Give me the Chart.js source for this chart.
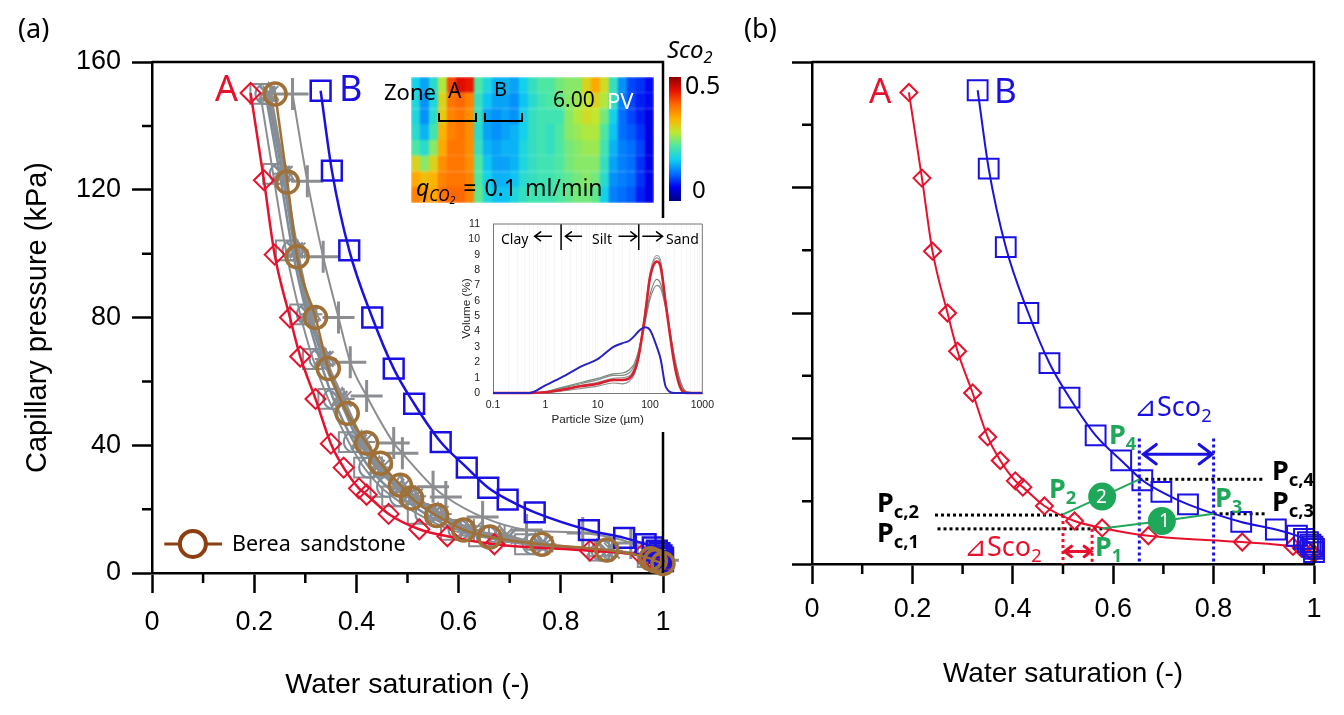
<!DOCTYPE html>
<html>
<head>
<meta charset="utf-8">
<script src="https://cdn.jsdelivr.net/npm/chart.js"></script>
<style>
  html, body { margin: 0; padding: 0; background: #fff; overflow: hidden; }
  body { width: 1344px; height: 715px; position: relative; font-family: "Noto Sans", sans-serif; }
  canvas { position: absolute; }
  .t { position: absolute; white-space: nowrap; line-height: 1; }
  .t sub { font-size: 0.68em; vertical-align: baseline; position: relative; top: 0.3em; }
  .red { color: #e8112d; }
  .blue { color: #1a10e0; }
  .green { color: #1fa85a; font-weight: 700; }
  .pc { color: #000; font-weight: 700; font-size: 27px; }
  .bracket { position: absolute; border: 2px solid #000; border-top: none; height: 7px; }
  #inset { position: absolute; left: 458px; top: 218px; width: 262px; height: 214px; background: #fff; }
  #heatWrap { position: absolute; left: 411px; top: 77px; width: 243px; height: 126px; overflow: hidden; }
</style>
</head>
<body>

<canvas id="chartA" width="700" height="715" style="left:0;top:0"></canvas>
<canvas id="chartB" width="672" height="715" style="left:672px;top:0"></canvas>
<div id="inset"><canvas id="chartPsd" width="262" height="220" style="left:0;top:-6px"></canvas></div>
<div id="heatWrap"><canvas id="chartHeat" width="243" height="126" style="left:0;top:0;filter:blur(1.2px)"></canvas></div>
<canvas id="chartBar" width="12" height="124" style="left:669px;top:77px"></canvas>

<!-- panel a text -->
<div class="t" style="left:18px;top:14px;font-size:27px">(a)</div>
<div class="t red" style="left:215px;top:70px;font-size:36px">A</div>
<div class="t blue" style="left:339px;top:70px;font-size:36px">B</div>
<div class="t" style="left:384px;top:80px;font-size:22px">Zone</div>
<div class="t" style="left:448px;top:80px;font-size:21px">A</div>
<div class="t" style="left:494px;top:79px;font-size:20px">B</div>
<div class="bracket" style="left:438px;top:113px;width:35px"></div>
<div class="bracket" style="left:484px;top:113px;width:35px"></div>
<div class="t" style="left:553px;top:89px;font-size:21px">6.00</div>
<div class="t" style="left:607px;top:89px;font-size:22px;color:#fff">PV</div>
<div class="t" style="left:416px;top:176px;font-size:23px;word-spacing:2px"><i>q<sub>CO<sub>2</sub></sub></i> = 0.1 ml/min</div>
<div class="t" style="left:667px;top:37px;font-size:24px"><i>Sco<sub>2</sub></i></div>
<div class="t" style="left:685px;top:72px;font-size:25px">0.5</div>
<div class="t" style="left:692px;top:177px;font-size:24px">0</div>
<div class="t" style="left:232px;top:532px;font-size:21.5px;word-spacing:4px">Berea sandstone</div>
<div class="t" style="left:501px;top:232px;font-size:14px">Clay</div>
<div class="t" style="left:592px;top:232px;font-size:14px">Silt</div>
<div class="t" style="left:666px;top:232px;font-size:14px">Sand</div>

<!-- panel b text -->
<div class="t" style="left:744px;top:14px;font-size:27px">(b)</div>
<div class="t red" style="left:869px;top:72px;font-size:35px">A</div>
<div class="t blue" style="left:994px;top:72px;font-size:35px">B</div>
<div class="t blue" style="left:1134px;top:392px;font-size:27px">⊿Sco<sub>2</sub></div>
<div class="t red" style="left:964px;top:532px;font-size:27px">⊿Sco<sub>2</sub></div>
<div class="t green" style="left:1109px;top:420px;font-size:27px">P<sub>4</sub></div>
<div class="t green" style="left:1049px;top:474px;font-size:27px">P<sub>2</sub></div>
<div class="t green" style="left:1095px;top:532px;font-size:27px">P<sub>1</sub></div>
<div class="t green" style="left:1215px;top:483px;font-size:27px">P<sub>3</sub></div>
<div class="t pc" style="left:877px;top:488px">P<sub>c,2</sub></div>
<div class="t pc" style="left:877px;top:518px">P<sub>c,1</sub></div>
<div class="t pc" style="left:1272px;top:456px">P<sub>c,4</sub></div>
<div class="t pc" style="left:1272px;top:487px">P<sub>c,3</sub></div>
<div class="t" style="left:1096px;top:487px;font-size:19px;color:#fff">2</div>
<div class="t" style="left:1159px;top:511px;font-size:19px;color:#fff">1</div>

<script>
// capillary pressure curves, x = water saturation, y = kPa
const xA = [0.193,0.219,0.24,0.27,0.29,0.32,0.35,0.375,0.405,0.42,0.463,0.523,0.578,0.67,0.857,0.958,0.975,0.99,0.996,1];
const yA = [150.3,123,99.7,80,67.8,54.5,40.5,33,26.5,24.5,18.5,13.7,11.5,9,7,5.6,5,4.4,3.8,3.2];
const xB = [0.33,0.352,0.386,0.431,0.473,0.513,0.565,0.616,0.658,0.696,0.749,0.855,0.924,0.966,0.98,0.988,0.993,0.997,1,1];
const yB = [151,126,101,80,64,53,41,33,26.7,23,19,13.4,11,9,8,7,6.2,5.5,4.8,3.8];
const xBerea = [0.241,0.265,0.284,0.32,0.345,0.382,0.42,0.447,0.486,0.508,0.557,0.61,0.661,0.763,0.89,0.976,0.985,1];
const yBerea = [150,122.4,99,80,64,50,40.7,34.4,27.5,23.5,18,13.5,11.3,9,7.2,4.5,3.8,3];
const xPlus = [0.275,0.304,0.335,0.365,0.388,0.42,0.473,0.49,0.55,0.575,0.647,0.733,0.843,0.937,1];
const yPlus = [150,122.7,99,80,66,55.4,40.7,37.5,27,23.8,17.5,13.5,12.5,9.4,4];

// the grey samples share the same pressure steps
const yGrey = [150,125,101,81,67,54.5,41,33,27,24,18.5,13.5,11.5,9,7,5,3.5];
const xGrey1 = [0.212,0.237,0.262,0.29,0.315,0.345,0.385,0.415,0.447,0.47,0.52,0.585,0.64,0.73,0.875,0.97,1];
const xGrey2 = [0.222,0.25,0.275,0.303,0.328,0.355,0.395,0.425,0.46,0.485,0.535,0.6,0.655,0.745,0.88,0.975,1];
const xGrey3 = [0.226,0.255,0.28,0.307,0.335,0.367,0.405,0.44,0.478,0.5,0.55,0.615,0.698,0.76,0.89,0.98,1];
const xGrey4 = [0.228,0.258,0.283,0.31,0.338,0.372,0.41,0.445,0.485,0.51,0.56,0.62,0.68,0.75,0.87,0.975,1];
const xGrey5 = [0.232,0.26,0.285,0.312,0.34,0.375,0.415,0.45,0.49,0.515,0.565,0.63,0.69,0.77,0.9,0.98,1];

// legend sample on panel a
const xLegend = [0.024,0.08,0.137];
const yLegend = [9.1,9.1,9.1];

// panel b annotations
const pc1X = [0.25,0.578], pc1Y = [11.2,11.2];
const pc2X = [0.245,0.5], pc2Y = [15.6,15.6];
const pc3X = [0.8,0.904], pc3Y = [16,16];
const pc4X = [0.652,0.9], pc4Y = [27,27];
const redDotsLeft = [0.5,0.5], redDotsLeftY = [15.6,0];
const redDotsRight = [0.558,0.558], redDotsRightY = [11.2,0];
const blueDotsLeft = [0.652,0.652], blueDotsRight = [0.8,0.8], blueDotsY = [40,0];
const greenLine1X = [0.578,0.697,0.8], greenLine1Y = [11.3,13.7,16];
const greenLine2X = [0.5,0.578,0.652], greenLine2Y = [15.8,21.5,27];

// particle size curves, x in micron
const psdSizes = [0.1,0.5,1,2,5,10,20,30,40,50,60,80,100,135,160,200,300,400,500,1000];
const psdRed = [0,0,0.05,0.2,0.45,0.6,0.85,0.85,0.95,1.4,2.3,5,7.5,8.55,8.2,5.8,1.7,0.2,0,0];
const psdGrey1 = [0,0,0.05,0.25,0.5,0.7,0.95,1,1.1,1.6,2.5,5.2,7.8,8.95,8.6,6,1.9,0.3,0,0];
const psdGrey2 = [0,0,0.08,0.35,0.7,0.95,1.25,1.3,1.5,1.9,2.7,4.7,6.4,7.4,7.1,5.7,2.1,0.5,0.05,0];
const psdGrey3 = [0,0,0.06,0.3,0.62,0.85,1.15,1.15,1.3,1.75,2.5,4.5,6.1,7,6.8,5.5,2.2,0.55,0.1,0];
const psdGrey4 = [0,0,0.02,0.12,0.3,0.45,0.65,0.6,0.75,1.2,2.2,5,7.6,8.8,8.4,5.9,1.8,0.25,0,0];
const psdBlue = [0,0,0.5,1,1.75,2.2,3,3.25,3.4,3.7,4,4.28,4.1,3.0,2.2,0.4,0,0,0,0];
const psdDividerX1 = [2,2], psdDividerX2 = [61,61], psdDividerY = [11,9.3];

// Sco2 field, one list per row from top to bottom
const heatRow1 = [.17,.14,.19,.27,.41,.45,.44,.22,.18,.15,.15,.14,.17,.20,.22,.22,.24,.25,.25,.30,.34,.29,.20,.13,.09,.08,.06];
const heatRow2 = [.18,.13,.18,.30,.38,.39,.37,.20,.16,.14,.14,.13,.16,.19,.21,.22,.23,.25,.26,.28,.30,.27,.20,.12,.09,.07,.06];
const heatRow3 = [.18,.13,.19,.31,.37,.38,.36,.20,.14,.13,.14,.13,.17,.20,.21,.21,.21,.25,.27,.29,.28,.24,.17,.11,.09,.07,.05];
const heatRow4 = [.19,.15,.21,.33,.37,.38,.36,.19,.14,.13,.14,.15,.17,.20,.21,.20,.22,.25,.26,.27,.27,.22,.16,.11,.10,.08,.05];
const heatRow5 = [.22,.19,.25,.34,.38,.38,.36,.20,.15,.14,.15,.15,.18,.20,.21,.20,.22,.24,.25,.26,.26,.21,.15,.12,.11,.09,.05];
const heatRow6 = [.30,.25,.30,.36,.38,.38,.36,.22,.16,.14,.14,.15,.18,.20,.21,.21,.22,.24,.25,.25,.25,.20,.14,.12,.11,.08,.05];
const heatRow7 = [.34,.32,.33,.37,.38,.38,.37,.22,.17,.15,.15,.16,.19,.20,.21,.21,.22,.23,.24,.25,.24,.19,.13,.12,.11,.08,.05];
const heatRow8 = [.37,.35,.34,.38,.39,.39,.37,.23,.18,.16,.16,.18,.20,.21,.21,.21,.22,.23,.24,.24,.23,.17,.12,.11,.10,.07,.05];

const xMajorTicks = [0,0.2,0.4,0.6,0.8,1];
const xMinorTicks = [0.1,0.3,0.5,0.7,0.9];
const yMinorTicks = [20,60,100,140];

const RED = '#e8112d', BLUE = '#1a10e0', GREEN = '#1fa85a', GREY = '#8b8d90', GREY2 = '#7e8c98', BROWN = '#9f7038';

function zip(xs, ys) {
    return xs.map((x, i) => ({ x: x, y: ys[i] }));
}

// frame, short ticks and arrows that the scales do not give us
const extras = {
    id: 'extras',
    afterDatasetsDraw(chart, args, opts) {
        const c = chart.ctx, a = chart.chartArea, sx = chart.scales.x, sy = chart.scales.y;
        c.save();
        c.strokeStyle = opts.frameColor || '#000';
        if (opts.frame) {
            c.lineWidth = opts.frameWidth || 2.5;
            c.beginPath();
            c.moveTo(a.left, a.top);
            c.lineTo(a.right, a.top);
            c.lineTo(a.right, a.bottom);
            c.stroke();
        }
        c.strokeStyle = '#000';
        if (opts.minor) {
            c.lineWidth = 2.5;
            c.beginPath();
            xMinorTicks.forEach(v => {
                const p = sx.getPixelForValue(v);
                c.moveTo(p, a.bottom);
                c.lineTo(p, a.bottom + 10);
            });
            yMinorTicks.forEach(v => {
                const p = sy.getPixelForValue(v);
                c.moveTo(a.left, p);
                c.lineTo(a.left - 10, p);
            });
            c.stroke();
        }
        (opts.arrows || []).forEach(ar => {
            const x1 = sx.getPixelForValue(ar.from[0]), y1 = sy.getPixelForValue(ar.from[1]);
            const x2 = sx.getPixelForValue(ar.to[0]), y2 = sy.getPixelForValue(ar.to[1]);
            c.strokeStyle = ar.color;
            c.lineWidth = ar.width;
            c.lineCap = 'round';
            c.beginPath();
            c.moveTo(x1, y1);
            c.lineTo(x2, y2);
            const dir = x2 > x1 ? -1 : 1;
            c.moveTo(x2 + dir * ar.head, y2 - ar.head * 0.75);
            c.lineTo(x2, y2);
            c.lineTo(x2 + dir * ar.head, y2 + ar.head * 0.75);
            if (ar.both) {
                c.moveTo(x1 - dir * ar.head, y1 - ar.head * 0.75);
                c.lineTo(x1, y1);
                c.lineTo(x1 - dir * ar.head, y1 + ar.head * 0.75);
            }
            c.stroke();
        });
        c.restore();
    }
};

function curve(xs, ys, color, width, style, radius, border) {
    return {
        data: zip(xs, ys),
        showLine: true,
        borderColor: color,
        borderWidth: width,
        pointStyle: style,
        pointRadius: radius,
        pointBorderColor: color,
        pointBorderWidth: border,
        pointBackgroundColor: 'transparent',
        cubicInterpolationMode: 'monotone',
        clip: false
    };
}

function straight(xs, ys, color, width, dash) {
    return {
        data: zip(xs, ys),
        showLine: true,
        borderColor: color,
        borderWidth: width,
        borderDash: dash,
        pointRadius: 0,
        clip: false
    };
}

function blob(xs, ys, color) {
    const ds = straight(xs, ys, color, 2);
    ds.pointRadius = [0, 13, 0];
    ds.pointBackgroundColor = color;
    ds.pointBorderColor = color;
    return ds;
}

function inDrawOrder(list) {
    list.forEach((ds, i) => { ds.order = list.length - i; });
    return list;
}

function mainOptions(canvasWidth, areaLeft, areaRight, areaBottom, showY, xTitleSize, xTitlePad, xLabelPad, arrows) {
    return {
        responsive: false,
        animation: false,
        layout: { padding: { top: 62, right: canvasWidth - areaRight, left: 0, bottom: 0 } },
        plugins: {
            legend: { display: false },
            tooltip: { enabled: false },
            extras: { frame: true, minor: true, arrows: arrows }
        },
        scales: {
            x: {
                type: 'linear', min: 0, max: 1,
                afterFit(s) { s.height = 715 - areaBottom; },
                afterBuildTicks(s) { s.ticks = xMajorTicks.map(v => ({ value: v })); },
                border: { color: '#000', width: 2.5 },
                grid: { drawOnChartArea: false, tickLength: 20, tickColor: '#000', tickWidth: 2.5 },
                ticks: {
                    color: '#000', padding: xLabelPad, maxRotation: 0, autoSkip: false,
                    font: { family: '"Liberation Sans"', size: 27 },
                    callback: v => String(+v.toFixed(1))
                },
                title: {
                    display: true, text: 'Water saturation (-)', color: '#000',
                    font: { family: '"Liberation Sans"', size: xTitleSize },
                    padding: { top: 0, bottom: xTitlePad }
                }
            },
            y: {
                type: 'linear', min: 0, max: 160,
                afterFit(s) { s.width = areaLeft; },
                border: { color: '#000', width: 2.5 },
                grid: { drawOnChartArea: false, tickLength: 20, tickColor: '#000', tickWidth: 2.5 },
                ticks: {
                    display: showY, stepSize: 40, color: '#000', padding: 11,
                    font: { family: '"Liberation Sans"', size: 27 }
                },
                title: {
                    display: showY, text: 'Capillary pressure (kPa)', color: '#000',
                    font: { family: '"Liberation Sans"', size: 29 },
                    padding: { top: 21, bottom: 0 }
                }
            }
        }
    };
}

function drawChartA() {
    const datasets = inDrawOrder([
        curve(xGrey1, yGrey, GREY, 2, 'rect', 14, 2),
        curve(xGrey2, yGrey, GREY2, 2.5, 'circle', 10, 2),
        curve(xGrey3, yGrey, GREY2, 2.5, 'crossRot', 11, 2.5),
        curve(xGrey4, yGrey, GREY, 2.5, 'triangle', 11, 2),
        curve(xGrey5, yGrey, GREY, 2.5, 'star', 11, 2),
        curve(xPlus, yPlus, GREY, 2, 'cross', 16, 3),
        curve(xA, yA, RED, 2.5, 'rectRot', 10, 2),
        curve(xB, yB, BLUE, 2.5, 'rect', 14, 2.5),
        curve(xBerea, yBerea, BROWN, 2.5, 'circle', 11, 3.5),
        (function () {
            const ds = straight(xLegend, yLegend, '#8d3f12', 3);
            ds.pointRadius = [0, 13, 0];
            ds.pointBorderColor = '#8d3f12';
            ds.pointBorderWidth = 4;
            ds.pointBackgroundColor = '#fff';
            return ds;
        })()
    ]);
    new Chart(document.getElementById('chartA'), {
        type: 'scatter',
        data: { datasets: datasets },
        options: mainOptions(700, 152, 663, 573, true, 28.5, 13, 13),
        plugins: [extras]
    });
}

function drawChartB() {
    const datasets = inDrawOrder([
        straight(pc1X, pc1Y, '#000', 3, [3, 3]),
        straight(pc2X, pc2Y, '#000', 3, [3, 3]),
        straight(pc3X, pc3Y, '#000', 3, [3, 3]),
        straight(pc4X, pc4Y, '#000', 3, [3, 3]),
        straight(redDotsLeft, redDotsLeftY, RED, 3, [3, 3]),
        straight(redDotsRight, redDotsRightY, RED, 3, [3, 3]),
        straight(blueDotsLeft, blueDotsY, BLUE, 3, [3, 3]),
        straight(blueDotsRight, blueDotsY, BLUE, 3, [3, 3]),
        curve(xA, yA, RED, 2, 'rectRot', 8.5, 2),
        curve(xB, yB, BLUE, 2, 'rect', 14, 2),
        blob(greenLine1X, greenLine1Y, GREEN),
        blob(greenLine2X, greenLine2Y, GREEN)
    ]);
    const arrows = [
        { from: [0.66, 35], to: [0.797, 35], color: BLUE, width: 3, head: 13, both: true },
        { from: [0.503, 4], to: [0.556, 4], color: RED, width: 3, head: 7, both: true }
    ];
    new Chart(document.getElementById('chartB'), {
        type: 'scatter',
        data: { datasets: datasets },
        options: mainOptions(672, 140, 642, 564, false, 28, 24, 9, arrows),
        plugins: [extras]
    });
}

function drawChartPsd() {
    const lines = [
        [psdGrey3, '#8a8a8a', 1.2], [psdGrey2, '#6f8a78', 1.2], [psdGrey1, '#9a9a9a', 1.2],
        [psdGrey4, '#8f8f8f', 1.2], [psdRed, '#d8202f', 2.6], [psdBlue, '#2a22c0', 2]
    ].map(l => {
        const ds = straight(psdSizes, l[0], l[1], l[2]);
        ds.cubicInterpolationMode = 'monotone';
        return ds;
    });
    lines.push(straight(psdDividerX1, psdDividerY, '#000', 1.5));
    lines.push(straight(psdDividerX2, psdDividerY, '#000', 1.5));
    const arrows = [
        { from: [1.31, 10.2], to: [0.625, 10.2], color: '#000', width: 1.5, head: 6 },
        { from: [4.9, 10.2], to: [2.42, 10.2], color: '#000', width: 1.5, head: 6 },
        { from: [25.6, 10.2], to: [56, 10.2], color: '#000', width: 1.5, head: 6 },
        { from: [73, 10.2], to: [174, 10.2], color: '#000', width: 1.5, head: 6 }
    ];
    const font = { family: '"Liberation Sans"', size: 10.5 };
    new Chart(document.getElementById('chartPsd'), {
        type: 'scatter',
        data: { datasets: inDrawOrder(lines) },
        options: {
            responsive: false,
            animation: false,
            layout: { padding: { top: 12, right: 14, left: 0, bottom: 0 } },
            plugins: {
                legend: { display: false },
                tooltip: { enabled: false },
                extras: { frame: true, frameColor: '#777', frameWidth: 1, arrows: arrows }
            },
            scales: {
                x: {
                    type: 'logarithmic', min: 0.1, max: 1000,
                    afterFit(s) { s.height = 220 - 181; },
                    border: { color: '#777', width: 1 },
                    grid: { color: '#f7f7f7', drawTicks: false },
                    ticks: {
                        color: '#222', font: font, padding: 6, maxRotation: 0, autoSkip: false,
                        callback: v => [0.1, 1, 10, 100, 1000].includes(v) ? String(v) : ''
                    },
                    title: { display: true, text: 'Particle Size (µm)', color: '#222',
                        font: { family: '"Liberation Sans"', size: 11.7 }, padding: { top: 0, bottom: 5 } }
                },
                y: {
                    type: 'linear', min: 0, max: 11,
                    afterFit(s) { s.width = 35; },
                    border: { color: '#777', width: 1 },
                    grid: { display: false },
                    ticks: { stepSize: 1, color: '#222', font: font, padding: 5, autoSkip: false },
                    title: { display: true, text: 'Volume (%)', color: '#222',
                        font: { family: '"Liberation Sans"', size: 11.7 }, padding: { top: 2, bottom: 0 } }
                }
            }
        },
        plugins: [extras]
    });
}

// jet style colours for Sco2 0..0.5
const jetStops = ['#00007f', '#0000f0', '#0070ff', '#10d0f0', '#50e8a0', '#c0e830', '#ffb000', '#ff6a00', '#e81000', '#8c0000'];

function jet(v) {
    const t = Math.min(v / 0.5, 1) * (jetStops.length - 1);
    const i = Math.min(Math.floor(t), jetStops.length - 2), f = t - i;
    const rgb = h => [1, 3, 5].map(k => parseInt(h.substr(k, 2), 16));
    const a = rgb(jetStops[i]), b = rgb(jetStops[i + 1]);
    return 'rgb(' + a.map((n, k) => Math.round(n + (b[k] - n) * f)).join(',') + ')';
}

function drawChartHeat() {
    const rows = [heatRow8, heatRow7, heatRow6, heatRow5, heatRow4, heatRow3, heatRow2, heatRow1];
    new Chart(document.getElementById('chartHeat'), {
        type: 'bar',
        data: {
            labels: heatRow1.map((v, i) => i),
            datasets: rows.map(r => ({
                data: r.map(() => 1),
                backgroundColor: r.map(jet),
                borderColor: r.map(jet),
                borderWidth: 1,
                barPercentage: 1,
                categoryPercentage: 1
            }))
        },
        options: {
            responsive: false,
            animation: false,
            plugins: { legend: { display: false }, tooltip: { enabled: false } },
            scales: {
                x: { stacked: true, display: false },
                y: { stacked: true, display: false, min: 0, max: rows.length }
            }
        }
    });
}

function drawChartBar() {
    const canvas = document.getElementById('chartBar');
    const grad = canvas.getContext('2d').createLinearGradient(0, 124, 0, 0);
    jetStops.forEach((c, i) => grad.addColorStop(i / (jetStops.length - 1), c));
    new Chart(canvas, {
        type: 'bar',
        data: { labels: ['Sco2'], datasets: [{ data: [0.5], backgroundColor: grad, barPercentage: 1, categoryPercentage: 1 }] },
        options: {
            responsive: false,
            animation: false,
            plugins: { legend: { display: false }, tooltip: { enabled: false } },
            scales: { x: { display: false }, y: { display: false, min: 0, max: 0.5 } }
        }
    });
}

drawChartA();
drawChartB();
drawChartPsd();
drawChartHeat();
drawChartBar();
</script>

</body>
</html>
